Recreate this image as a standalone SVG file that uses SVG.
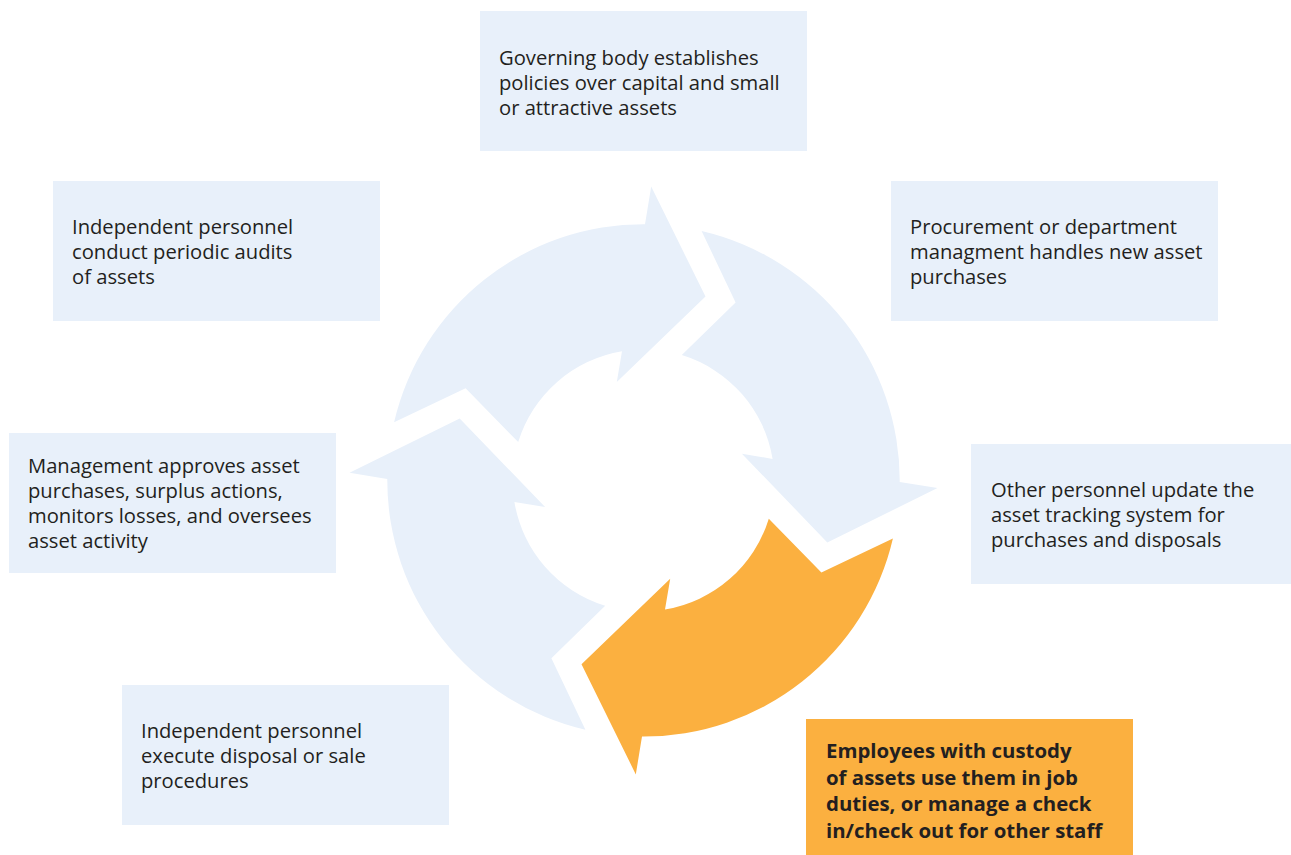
<svg xmlns="http://www.w3.org/2000/svg" width="1291" height="855" viewBox="0 0 1291 855">
<style>
.box{fill:#E8F0FA}
.hl{fill:#FBB040}
.t{font-family:"Open Sans","Noto Sans","Liberation Sans",sans-serif;font-size:20.2px;fill:#231F20}
.tb{font-family:"Open Sans","Noto Sans","Liberation Sans",sans-serif;font-size:20.4px;font-weight:bold;fill:#231F20}
.arr{fill:#E8F0FA}
</style>
<defs>
<path id="seg" d="M -249.4,-58.1 A 256 256 0 0 1 1.5,-256.2 L 7.7,-294 L 62,-183.8 L -26.7,-98.4 L -21.5,-129.1 A 131 131 0 0 0 -125.3,-38.3 L -177.9,-92.1 Z"/>
</defs>
<rect width="1291" height="855" fill="#FFFFFF"/>
<g id="connectors" transform="translate(643.5,480.4)">
<use href="#seg" class="arr"/>
<use href="#seg" class="arr" transform="rotate(90)"/>
<use href="#seg" class="hl" transform="rotate(180)"/>
<use href="#seg" class="arr" transform="rotate(270)"/>
</g>
<g id="n-governing">
<rect class="box" x="480" y="11" width="327" height="140"/>
<text class="t" x="499" y="65">Governing body establishes</text>
<text class="t" x="499" y="90">policies over capital and small</text>
<text class="t" x="499" y="115">or attractive assets</text>
</g>
<g id="n-procurement">
<rect class="box" x="891" y="181" width="327" height="140"/>
<text class="t" x="910" y="234">Procurement or department</text>
<text class="t" x="910" y="259">managment handles new asset</text>
<text class="t" x="910" y="284">purchases</text>
</g>
<g id="n-other">
<rect class="box" x="971" y="444" width="320" height="140"/>
<text class="t" x="991" y="497">Other personnel update the</text>
<text class="t" x="991" y="522">asset tracking system for</text>
<text class="t" x="991" y="547">purchases and disposals</text>
</g>
<g id="n-employees">
<rect class="hl" x="806" y="719" width="327" height="136"/>
<text class="tb" x="826" y="758">Employees with custody</text>
<text class="tb" x="826" y="785">of assets use them in job</text>
<text class="tb" x="826" y="811">duties, or manage a check</text>
<text class="tb" x="826" y="838">in/check out for other staff</text>
</g>
<g id="n-disposal">
<rect class="box" x="122" y="685" width="327" height="140"/>
<text class="t" x="141" y="738">Independent personnel</text>
<text class="t" x="141" y="763">execute disposal or sale</text>
<text class="t" x="141" y="788">procedures</text>
</g>
<g id="n-management">
<rect class="box" x="9" y="433" width="327" height="140"/>
<text class="t" x="28" y="473">Management approves asset</text>
<text class="t" x="28" y="498">purchases, surplus actions,</text>
<text class="t" x="28" y="523">monitors losses, and oversees</text>
<text class="t" x="28" y="548">asset activity</text>
</g>
<g id="n-audits">
<rect class="box" x="53" y="181" width="327" height="140"/>
<text class="t" x="72" y="234">Independent personnel</text>
<text class="t" x="72" y="259">conduct periodic audits</text>
<text class="t" x="72" y="284">of assets</text>
</g>
</svg>
